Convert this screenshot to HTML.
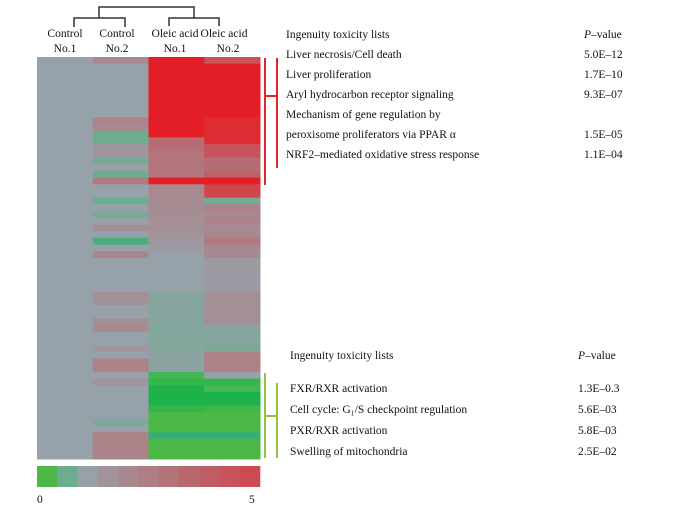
<!DOCTYPE html>
<html><head><meta charset="utf-8">
<style>
html,body{margin:0;padding:0;background:#fff;}
svg{display:block;}
text{font-family:"Liberation Serif",serif;fill:#111;}
</style></head>
<body>
<svg id="chart" width="691" height="513" viewBox="0 0 691 513">
  <g id="dendro" stroke="#333" stroke-width="1.5" fill="none">
    <path d="M99,18 V7 H194 V18"/>
    <path d="M74,27 V18 H125 V27"/>
    <path d="M169,26 V18 H219 V26"/>
  </g>
  <g id="collabels" font-size="11.5"></g>
  <g id="cells"></g>
  <g id="legend"></g>
  <text x="37" y="503" font-size="11.5">0</text>
  <text x="249" y="503" font-size="11.5">5</text>

  <g stroke="#e0242c" stroke-width="2" fill="none">
    <path d="M265,58 V185"/><path d="M277,58 V168"/><path d="M265,96 H277"/>
  </g>
  <g stroke="#8cc63f" stroke-width="2" fill="none">
    <path d="M265,373 V458"/><path d="M277,383 V458"/><path d="M265,416 H277"/>
  </g>

  <g id="toplist" font-size="11.5"></g>
  <g id="botlist" font-size="11.5"></g>
</svg>
<script>
const columns = ["Control|No.1","Control|No.2","Oleic  acid|No.1","Oleic acid|No.2"];
const col1 = Array(60).fill(0);
const col2 = [1,0,0,0,0,0,0,0,0,1.2,1,-1,-1,0.5,0.5,-0.7,0,-1,1.5,0,0,-1,0,-0.7,0,0.7,0,-1.2,0,1.1,0,0,0,0,0,0.8,0.6,0,0,0.7,1,0,0,0.5,0,1.2,1.2,0,0.5,0,0,0,0,0,-0.6,0,1.2,1.2,1.2,1.2];
const col3 = [5,5,5,5,5,5,5,5,5,5,5,5,2,2,1.7,1.7,1.7,1.7,5,1,1,0.9,0.9,0.8,0.8,0.7,0.6,0.4,0.3,0,0,0,0,0,0,-0.4,-0.4,-0.4,-0.4,-0.4,-0.5,-0.5,-0.5,-0.5,-0.3,-0.3,-0.3,-1.5,-1.8,-2,-2,-2,-1.8,-1.6,-1.6,-1.6,-1.3,-1.6,-1.6,-1.6];
const col4 = [3,5,5,5,5,5,5,5,5,4.5,4.5,4.5,4.5,3,3,2,2,2.5,5,3.5,3.5,-0.8,1.2,1,1.2,0.9,1.1,1.5,1,1,0.3,0.3,0.3,0.3,0.3,0.7,0.7,0.7,0.7,0.7,-0.4,-0.4,-0.4,-0.7,1.3,1.3,1.3,0,-1.8,-1.5,-2,-2,-1.7,-1.6,-1.6,-1.6,-1.3,-1.6,-1.6,-1.6];
const series = [col1,col2,col3,col4];
const legendValues = [-1.6,-1,0,0.6,1,1.4,1.8,2.2,2.6,3,3.3];
const topItems = ["Liver necrosis/Cell death","Liver proliferation","Aryl hydrocarbon receptor signaling","Mechanism of gene regulation by","peroxisome proliferators via PPAR \u03b1","NRF2\u2013mediated oxidative stress response"];
const topP = ["5.0E\u201312","1.7E\u201310","9.3E\u201307","","1.5E\u201305","1.1E\u201304"];
const botItems = ["FXR/RXR activation","Cell cycle: G\u2081/S checkpoint regulation","PXR/RXR activation","Swelling of mitochondria"];
const botP = ["1.3E\u20130.3","5.6E\u201303","5.8E\u201303","2.5E\u201302"];

const NS="http://www.w3.org/2000/svg";
function mk(tag,attrs,parent){const e=document.createElementNS(NS,tag);for(const k in attrs)e.setAttribute(k,attrs[k]);parent.appendChild(e);return e;}
const pos=[[0,[151,161,170]],[1,[168,137,143]],[2,[181,109,115]],[3,[200,83,90]],[4,[214,57,62]],[5,[227,30,38]]];
const neg=[[0,[151,161,170]],[-1,[110,172,142]],[-1.3,[55,174,115]],[-1.6,[76,184,72]],[-2,[29,179,74]]];
function lerp(a,b,t){return a.map((v,i)=>Math.round(v+(b[i]-v)*t));}
function color(v){const st=v>=0?pos:neg;const a=Math.abs(v);
  for(let i=0;i<st.length-1;i++){const a0=Math.abs(st[i][0]),a1=Math.abs(st[i+1][0]);
    if(a<=a1){const c=lerp(st[i][1],st[i+1][1],(a-a0)/(a1-a0));return `rgb(${c})`;}}
  return `rgb(${st[st.length-1][1]})`;}
const X0=37,X1=260,Y0=57,Y1=459;
const colW=(X1-X0)/columns.length;
const xScale=i=>X0+i*colW;
const yScale=r=>Y0+r*(Y1-Y0)/col1.length;
const cells=document.getElementById('cells');
series.forEach((s,ci)=>s.forEach((v,r)=>{
  const rc=mk('rect',{x:xScale(ci),y:yScale(r),width:colW+0.5,height:yScale(r+1)-yScale(r)+0.5,fill:color(v)},cells);
  
  
}));
const cl=document.getElementById('collabels');
const centers=[65,117,175,224];
columns.forEach((c,i)=>{const [a,b]=c.split('|');
  const t1=mk('text',{x:centers[i],y:37,'text-anchor':'middle','xml:space':'preserve'},cl);t1.textContent=a;
  
  
  const t2=mk('text',{x:centers[i]+(i==3?4:0),y:52,'text-anchor':'middle'},cl);t2.textContent=b;
  
  
});
const lg=document.getElementById('legend');
const lw=(X1-X0)/legendValues.length;
legendValues.forEach((v,i)=>{const r=mk('rect',{x:X0+i*lw,y:466,width:lw+0.3,height:21,fill:color(v)},lg);
  
  });
function list(g,x,hy,py,rowY,step,items,pv){
  let h=mk('text',{x:x,y:hy},g);h.textContent="Ingenuity toxicity lists";
  
  
  let p=mk('text',{x:pv.x,y:hy},g);p.innerHTML='<tspan font-style="italic">P</tspan>\u2013value';
  
  
  items.forEach((it,i)=>{const t=mk('text',{x:x,y:rowY+i*step},g);t.textContent=it;
    
    
    const q=mk('text',{x:pv.x,y:rowY+i*step},g);q.textContent=pv.vals[i];
    
    });
}
list(document.getElementById('toplist'),286,38,0,58,20,topItems,{x:584,vals:topP});
list(document.getElementById('botlist'),290,359,0,392,21,botItems,{x:578,vals:botP});
</script>
</body></html>
